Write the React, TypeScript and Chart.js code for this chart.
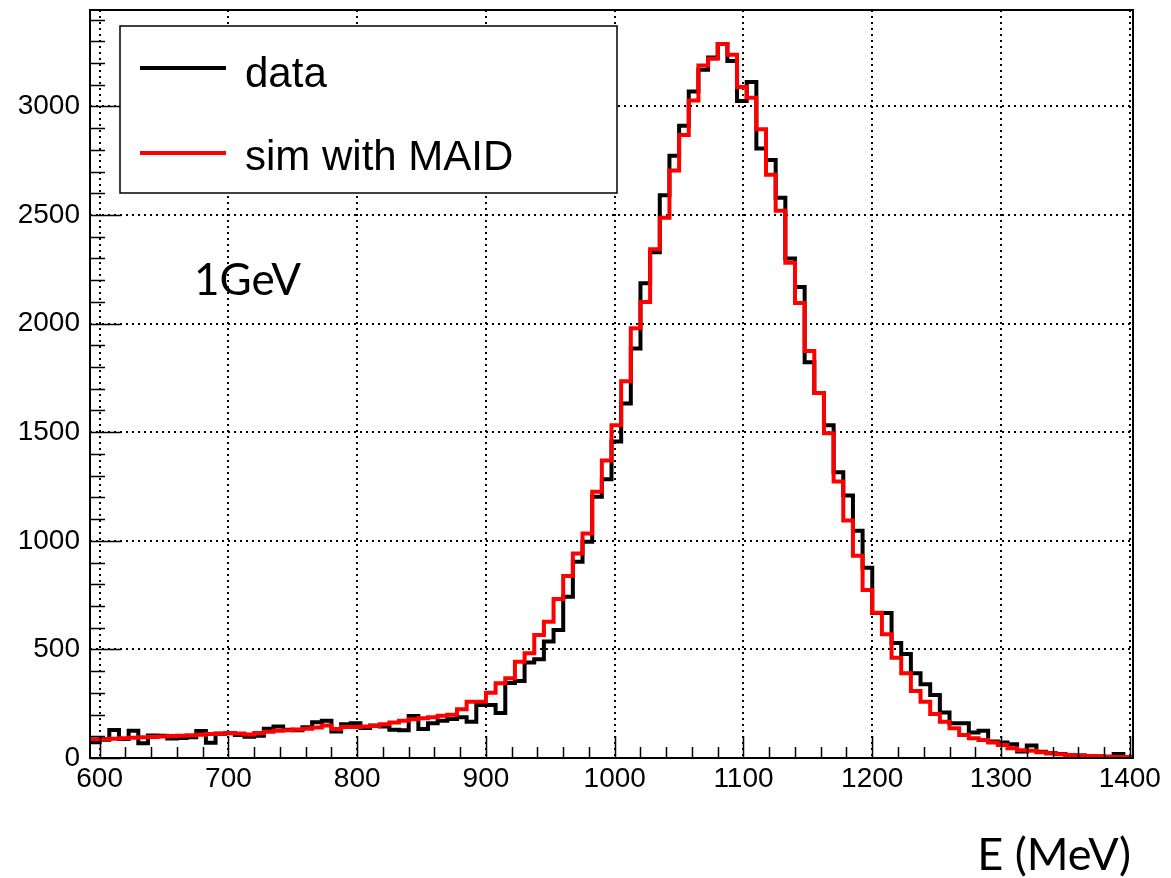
import { useEffect, useRef } from 'react';
import { Chart, registerables } from 'chart.js';

Chart.register(...registerables);

// Histogram binning (MeV)
const BIN_LOW = 592.5;
const BIN_WIDTH = 7.5;
const X_MIN = 592.5;
const X_MAX = 1402.5;
const Y_MIN = 0;
const Y_MAX = 3444;

const xTickValues = [600, 700, 800, 900, 1000, 1100, 1200, 1300, 1400];
const yTickValues = [0, 500, 1000, 1500, 2000, 2500, 3000];
const X_MINOR_STEP = 20;
const Y_MINOR_STEP = 100;

const legendLabels = ['data', 'sim with MAID'];
const seriesColors = ['#000000', '#ff0000'];
const annotationText = '1GeV';
const xAxisTitle = 'E (MeV)';

// counts per 7.5 MeV bin, starting at 592.5 MeV
const dataCounts = [
  73, 84, 129, 88, 125, 68, 104, 102, 90, 92,
  95, 124, 70, 112, 114, 106, 98, 102, 135, 145,
  130, 128, 142, 165, 172, 122, 155, 160, 138, 150,
  145, 130, 128, 193, 133, 160, 172, 180, 188, 167,
  244, 244, 207, 345, 355, 440, 455, 536, 589, 743,
  904, 996, 1203, 1283, 1457, 1632, 1885, 2186, 2329, 2591,
  2773, 2911, 3069, 3169, 3225, 3288, 3209, 3025, 3112, 2806,
  2753, 2580, 2300, 2169, 1822, 1680, 1532, 1316, 1209, 1046,
  876, 668, 668, 530, 479, 390, 339, 290, 209, 160,
  160, 117, 126, 76, 71, 63, 30, 57, 29, 22,
  18, 14, 11, 9, 7, 6, 18, 5,
];

const simCounts = [
  86, 87, 89, 91, 93, 95, 97, 99, 101, 103,
  105, 107, 110, 113, 115, 113, 108, 115, 121, 125,
  128, 131, 135, 140, 150, 133, 143, 143, 145, 147,
  155, 163, 172, 178, 183, 188, 194, 199, 225, 259,
  259, 301, 344, 367, 443, 482, 566, 627, 732, 838,
  942, 1034, 1226, 1370, 1532, 1735, 1979, 2099, 2342, 2488,
  2705, 2868, 3027, 3188, 3220, 3288, 3238, 3090, 3040, 2895,
  2686, 2520, 2280, 2095, 1874, 1680, 1495, 1273, 1094, 931,
  774, 669, 570, 462, 390, 308, 259, 203, 167, 137,
  106, 91, 83, 71, 60, 45, 36, 33, 27, 22,
  17, 14, 11, 9, 8, 6, 5, 5,
];

function stepPoints(values: number[]) {
  const pts = values.map((v, i) => ({ x: BIN_LOW + i * BIN_WIDTH, y: v }));
  pts.push({ x: BIN_LOW + values.length * BIN_WIDTH, y: values[values.length - 1] });
  return pts;
}

const AXIS_FONT = "'Liberation Sans', Arial, Helvetica, sans-serif";
const NOTE_FONT = "Lato, 'Open Sans', sans-serif";

function zeroPadding(s: any) {
  s.paddingTop = 0;
  s.paddingBottom = 0;
  s.paddingLeft = 0;
  s.paddingRight = 0;
}

const rootStylePlugin = {
  id: 'rootStyle',
  afterDraw(chart: any) {
    const { ctx, chartArea } = chart;
    const xs = chart.scales.x;
    const ys = chart.scales.y;
    const { left, right, top, bottom } = chartArea;
    ctx.save();
    ctx.strokeStyle = '#000';
    ctx.lineWidth = 1.5;
    ctx.setLineDash([]);
    ctx.beginPath();
    for (let v = xTickValues[0]; v <= xTickValues[xTickValues.length - 1]; v += X_MINOR_STEP) {
      const px = Math.round(xs.getPixelForValue(v)) + 0.5;
      const len = v % 100 === 0 ? 22 : 11;
      ctx.moveTo(px, bottom);
      ctx.lineTo(px, bottom - len);
    }
    for (let v = Y_MIN; v <= Y_MAX; v += Y_MINOR_STEP) {
      const py = Math.round(ys.getPixelForValue(v)) + 0.5;
      const len = v % 500 === 0 ? 31 : 15;
      ctx.moveTo(left, py);
      ctx.lineTo(left + len, py);
    }
    ctx.stroke();
    ctx.lineWidth = 2;
    ctx.strokeRect(left, top, right - left, bottom - top);

    // legend box
    const lx = 120, ly = 26, lw = 497, lh = 167;
    ctx.fillStyle = '#fff';
    ctx.fillRect(lx, ly, lw, lh);
    ctx.lineWidth = 1.5;
    ctx.strokeRect(lx, ly, lw, lh);
    const rowsY = [68, 153];
    const baseY = [87, 170];
    legendLabels.forEach((label, i) => {
      ctx.strokeStyle = seriesColors[i];
      ctx.lineWidth = 4;
      ctx.beginPath();
      ctx.moveTo(140, rowsY[i]);
      ctx.lineTo(226, rowsY[i]);
      ctx.stroke();
      ctx.fillStyle = '#000';
      ctx.font = `42px ${AXIS_FONT}`;
      ctx.textAlign = 'left';
      ctx.textBaseline = 'alphabetic';
      ctx.fillText(label, 245, baseY[i]);
    });

    ctx.fillStyle = '#000';
    ctx.font = `44px ${NOTE_FONT}`;
    ctx.textAlign = 'left';
    ctx.textBaseline = 'alphabetic';
    ctx.fillText(annotationText, 194, 295);
    ctx.font = `45px ${NOTE_FONT}`;
    ctx.textAlign = 'right';
    ctx.fillText(xAxisTitle, 1131, 870);
    ctx.restore();
  },
};

export default function App() {
  const canvasRef = useRef<HTMLCanvasElement | null>(null);

  useEffect(() => {
    document.body.style.margin = '0';
    const canvas = canvasRef.current;
    if (!canvas) return;
    const chart = new Chart(canvas, {
      type: 'line',
      data: {
        datasets: [
          {
            label: legendLabels[1],
            data: stepPoints(simCounts),
            borderColor: seriesColors[1],
            borderWidth: 4,
            pointRadius: 0,
            stepped: 'before',
            fill: false,
            borderJoinStyle: 'miter',
            borderCapStyle: 'butt',
            order: 0,
          },
          {
            label: legendLabels[0],
            data: stepPoints(dataCounts),
            borderColor: seriesColors[0],
            borderWidth: 4,
            pointRadius: 0,
            stepped: 'before',
            fill: false,
            borderJoinStyle: 'miter',
            borderCapStyle: 'butt',
            order: 1,
          },
        ],
      },
      options: {
        responsive: false,
        animation: false,
        devicePixelRatio: 1,
        layout: { padding: { left: 0, right: 38, top: 10, bottom: 0 } },
        plugins: { legend: { display: false }, tooltip: { enabled: false } },
        scales: {
          x: {
            type: 'linear',
            min: X_MIN,
            max: X_MAX,
            afterFit: (s: any) => { s.height = 120; zeroPadding(s); },
            afterBuildTicks: (s: any) => { s.ticks = xTickValues.map((v) => ({ value: v })); },
            grid: { color: '#000', lineWidth: 2, drawTicks: false, borderDash: [2, 4] } as any,
            border: { display: false, dash: [2, 4] },
            ticks: {
              color: '#000',
              font: { family: AXIS_FONT, size: 28 },
              padding: 4,
              maxRotation: 0,
              autoSkip: false,
              callback: (v: any) => String(v),
            },
          },
          y: {
            type: 'linear',
            min: Y_MIN,
            max: Y_MAX,
            afterFit: (s: any) => { s.width = 90; zeroPadding(s); },
            afterBuildTicks: (s: any) => { s.ticks = yTickValues.map((v) => ({ value: v })); },
            grid: { color: '#000', lineWidth: 2, drawTicks: false, borderDash: [2, 4] } as any,
            border: { display: false, dash: [2, 4] },
            ticks: {
              color: '#000',
              font: { family: AXIS_FONT, size: 28 },
              padding: 10,
              autoSkip: false,
              callback: (v: any) => String(v),
            },
          },
        },
      },
      plugins: [rootStylePlugin],
    });
    return () => chart.destroy();
  }, []);

  return (
    <div style={{ width: 1171, height: 878, background: '#fff' }}>
      <canvas ref={canvasRef} width={1171} height={878} style={{ display: 'block' }} />
    </div>
  );
}
